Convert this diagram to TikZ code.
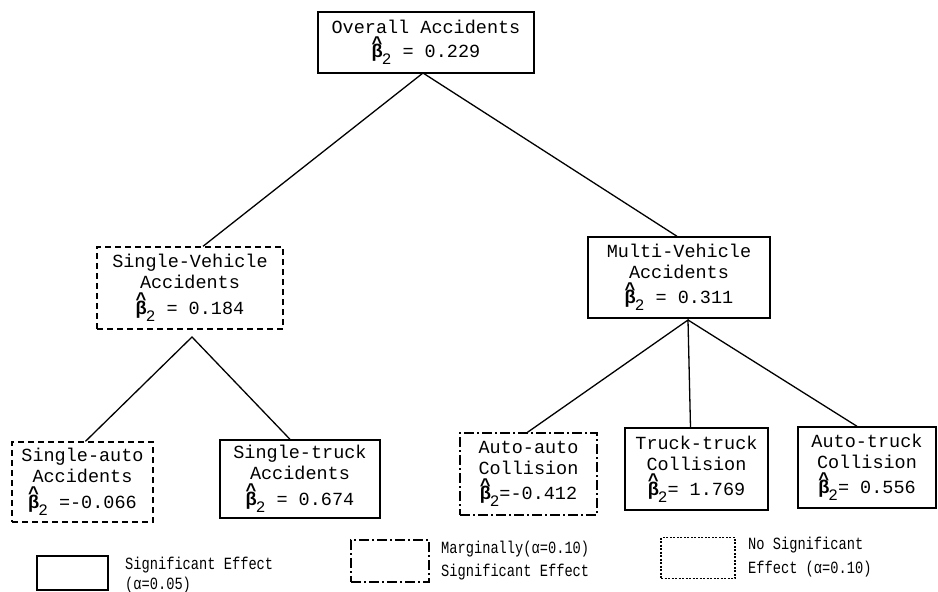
\documentclass[tikz,border=0pt]{standalone}
\usepackage{fontspec}
\usepackage{graphicx}
\newfontfamily\cour{Liberation Mono}
\newcommand{\bh}{\makebox[0pt][l]{\raisebox{8.5pt}{\textbf{\textasciicircum}}}\textbf{β}\kern-1pt\raisebox{-7pt}{\fontsize{16}{16}\selectfont 2}}
\newcommand{\lgt}[1]{\scalebox{1}[1.25]{#1}}
\tikzset{
 box/.style={draw, line width=1.4pt, inner sep=0pt, align=center,
   font=\cour\fontsize{18.5}{21}\selectfont},
 sig/.style={box},
 nosig/.style={box, dash pattern=on 6pt off 4pt},
 marg/.style={box, dash pattern=on 10pt off 3pt on 2pt off 3pt},
 conn/.style={line width=1.3pt},
 legtext/.style={font=\cour\fontsize{13.7}{16}\selectfont, anchor=base west, inner sep=0pt},
 legbox/.style={draw, line width=1.2pt, inner sep=0pt},
}
\begin{document}
\begin{tikzpicture}[x=1pt,y=-1pt]
\useasboundingbox (0,0) rectangle (938,592);

% nodes
\node[sig, minimum width=216pt, minimum height=61pt] (top) at (426,42.5)
  {Overall Accidents\\[2pt]\bh{} = 0.229};
\node[nosig, minimum width=186pt, minimum height=82pt] (sv) at (190,288)
  {Single-Vehicle\\Accidents\\[3pt]\bh{} = 0.184};
\node[sig, minimum width=182pt, minimum height=81pt] (mv) at (679,277.5)
  {Multi-Vehicle\\Accidents\\[3pt]\bh{} = 0.311};
\node[nosig, minimum width=141pt, minimum height=80pt] (sa) at (82.5,482)
  {Single-auto\\Accidents\\[3pt]\bh{} =-0.066};
\node[sig, minimum width=160pt, minimum height=78pt] (st) at (300,479)
  {Single-truck\\Accidents\\[3pt]\bh{} = 0.674};
\node[marg, minimum width=137pt, minimum height=82pt] (aa) at (528.5,474)
  {Auto-auto\\Collision\\[3pt]\bh{}=-0.412};
\node[sig, minimum width=143pt, minimum height=82pt] (tt) at (696.5,469)
  {Truck-truck\\Collision\\[3pt]\bh{}= 1.769};
\node[sig, minimum width=138pt, minimum height=81pt] (at) at (867,467.5)
  {Auto-truck\\Collision\\[3pt]\bh{}= 0.556};

% apexes
\coordinate (a1) at (423,73);
\coordinate (a2) at (192,337);
\coordinate (a3) at (688,320);

% connectors
\draw[conn] ([xshift=13pt]sv.north) -- (a1) -- ([xshift=-2pt]mv.north);
\draw[conn] ([xshift=3pt]sa.north) -- (a2) -- ([xshift=-10pt]st.north);
\draw[conn] ([xshift=-1pt]aa.north) -- (a3) -- ([xshift=-6pt]tt.north);
\draw[conn] (a3) -- ([xshift=-10pt]at.north);

% legend
\node[legbox, minimum width=71pt, minimum height=34pt] (l1) at (72.5,573) {};
\node[legtext] (l1a) at (125,569) {\lgt{Significant Effect}};
\node[legtext] (l1b) at (125,589) {\lgt{(α=0.05)}};

\node[legbox, dash pattern=on 10pt off 3pt on 2pt off 3pt, minimum width=78pt, minimum height=42pt] (l2) at (390,561) {};
\node[legtext] (l2a) at (441,553) {\lgt{Marginally(α=0.10)}};
\node[legtext] (l2b) at (441,576) {\lgt{Significant Effect}};

\node[legbox, dash pattern=on 2pt off 1.5pt, minimum width=74pt, minimum height=41pt] (l3) at (698,558) {};
\node[legtext] (l3a) at (748,549) {\lgt{No Significant}};
\node[legtext] (l3b) at (748,573) {\lgt{Effect (α=0.10)}};
\end{tikzpicture}
\end{document}
